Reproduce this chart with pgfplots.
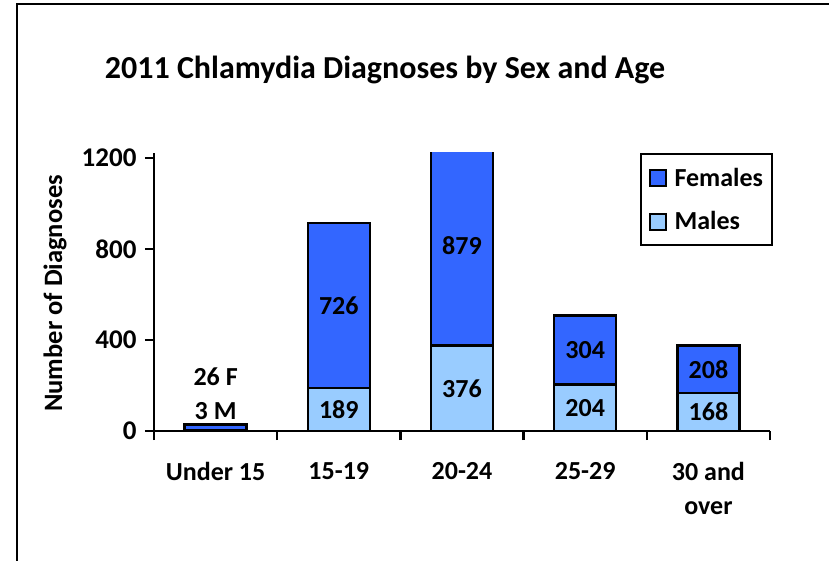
\documentclass[border=0pt]{standalone}
\usepackage{fontspec}
\setmainfont{Carlito}
\usepackage{pgfplots}
\pgfplotsset{compat=1.18}
\definecolor{fem}{HTML}{3366FF}
\definecolor{mal}{HTML}{99CCFF}
\begin{document}
\begin{tikzpicture}
\useasboundingbox (0pt,0pt) rectangle (829pt,-561pt);
\draw[line width=2.5pt] (17pt,-561pt) -- (17pt,-4pt) -- (830pt,-4pt);
\node[font=\fontsize{32}{38}\selectfont\bfseries] at (385pt,-70pt) {2011 Chlamydia Diagnoses by Sex and Age};
\begin{axis}[
  at={(154pt,-431pt)}, anchor=south west,
  scale only axis, width=616pt, height=278pt,
  xmin=-0.5, xmax=4.5, ymin=0, ymax=1222,
  ybar stacked, bar width=62pt,
  axis lines*=left,
  axis line style={line width=2.5pt},
  every tick/.style={black, line width=2.5pt},
  tick align=outside, major tick length=9pt,
  xtick={-0.5,0.5,1.5,2.5,3.5,4.5}, xticklabels={},
  extra x ticks={0,1,2,3,4},
  extra x tick labels={Under 15,15-19,20-24,25-29,{30 and\\over}},
  extra x tick style={major tick length=0pt, tick style={draw=none}},
  xticklabel style={align=center, font=\fontsize{26}{34}\selectfont\bfseries, yshift=-28pt},
  ytick={0,400,800,1200}, yticklabels={0,400,800,1200},
  yticklabel style={font=\fontsize{27}{30}\selectfont\bfseries, xshift=-5pt},
  ylabel={Number of Diagnoses},
  ylabel style={at={(axis description cs:-0.1607,0.495)}, anchor=center, rotate=0, font=\fontsize{26.5}{30}\selectfont\bfseries},
  legend style={at={(rel axis cs:1.0049,1.0)}, anchor=north east, draw=black, line width=2pt,
    font=\fontsize{26}{30}\selectfont\bfseries, inner xsep=8pt, inner ysep=13pt, row sep=22pt,
    nodes={inner sep=1pt},
    /tikz/every odd column/.append style={column sep=7pt}},
  legend cell align=left,
  legend image code/.code={\draw[#1,draw=black,line width=2pt] (0pt,-8pt) rectangle (16pt,8pt);},
  reverse legend,
  clip=true,
]
\addplot[fill=mal, draw=black, line width=2.5pt] coordinates {(0,3) (1,189) (2,376) (3,204) (4,168)};
\addplot[fill=fem, draw=black, line width=2.5pt] coordinates {(0,26) (1,726) (2,879) (3,304) (4,208)};
\legend{Males,Females}
\end{axis}
\begin{axis}[
  at={(154pt,-431pt)}, anchor=south west,
  scale only axis, width=616pt, height=278pt,
  xmin=-0.5, xmax=4.5, ymin=0, ymax=1222,
  hide axis, clip=false,
  nodes near coords, point meta=explicit symbolic,
  every node near coord/.append style={anchor=center, font=\fontsize{26}{30}\selectfont\bfseries, text=black},
]
\addplot[only marks, mark=none] coordinates {
  (1,94.5) [189] (1,552) [726]
  (2,188) [376] (2,815.5) [879]
  (3,102) [204] (3,356) [304]
  (4,84) [168] (4,272) [208]
  (0,240) [26 F] (0,86) [3 M]
};
\end{axis}
\end{tikzpicture}
\end{document}
